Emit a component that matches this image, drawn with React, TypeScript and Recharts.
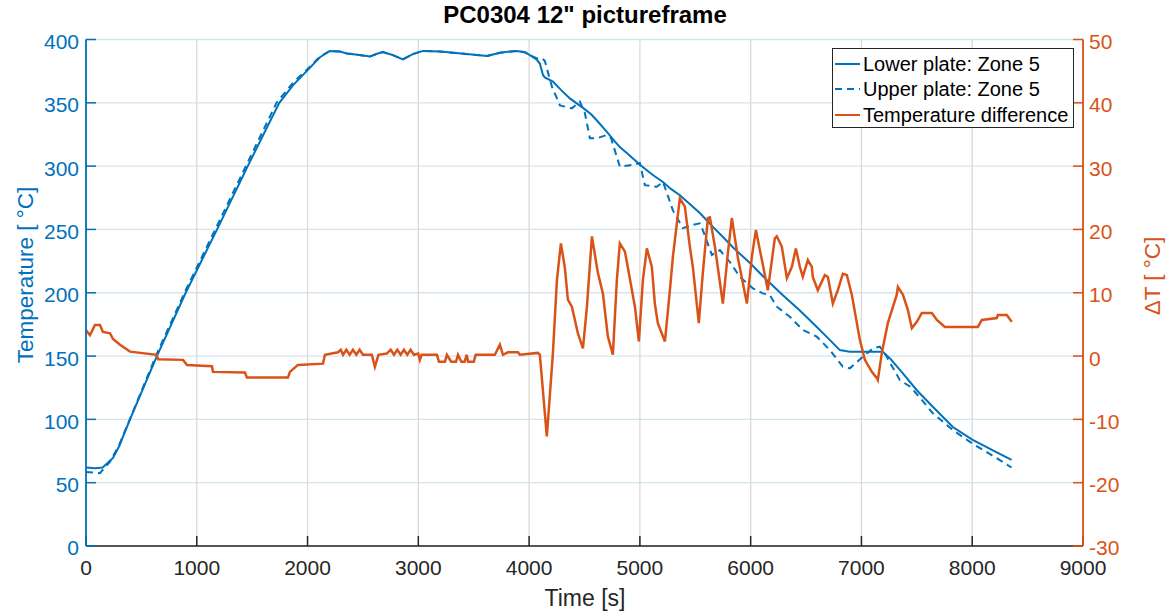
import { CartesianGrid, Line, LineChart, XAxis, YAxis } from "recharts";

const BLUE = "#0072BD";
const ORANGE = "#D95319";
const AXIS = "#262626";
const FONT = '"Liberation Sans", Arial, Helvetica, sans-serif';

// lower plate (solid)
const lowerTime = [0, 80, 150, 244, 300, 370, 397, 640, 900, 1200, 1460, 1745, 1870, 1992, 2112, 2202, 2292, 2355, 2450, 2563, 2620, 2680, 2760, 2861, 2950, 3041, 3195, 3436, 3620, 3736, 3890, 3960, 4007, 4070, 4097, 4125, 4142, 4215, 4290, 4368, 4486, 4560, 4612, 4702, 4760, 4819, 4900, 5000, 5117, 5208, 5280, 5361, 5450, 5541, 5659, 5750, 5839, 5993, 6146, 6291, 6444, 6597, 6700, 6805, 6895, 7193, 7260, 7374, 7500, 7644, 7825, 8000, 8200, 8355];
const lowerTemp = [62, 61.5, 62, 69.5, 79, 94, 100, 150, 200, 253, 300, 350, 364, 375, 386, 391, 390.5, 389, 388, 386.5, 388.5, 390, 388, 384.3, 388.5, 391, 390.5, 388.5, 387, 389.6, 391, 390, 387.7, 384, 381, 372, 370, 366.7, 360, 353.5, 346, 341, 336, 327, 321, 315, 309, 301, 293, 287.5, 282, 277, 270, 263, 252, 244, 236, 223.5, 210, 198, 186, 173, 164, 154.7, 153.5, 153.5, 148, 136.4, 123, 110, 94, 84, 75, 68];

// upper plate (dashed)
const upperTime = [0, 126, 217, 300, 400, 640, 900, 1200, 1460, 1720, 1870, 1992, 2112, 2202, 2292, 2355, 2450, 2563, 2620, 2680, 2760, 2861, 2950, 3041, 3195, 3436, 3620, 3736, 3890, 3960, 4007, 4070, 4120, 4142, 4206, 4278, 4386, 4458, 4503, 4549, 4612, 4700, 4740, 4819, 4937, 5000, 5027, 5045, 5153, 5208, 5244, 5298, 5388, 5478, 5541, 5568, 5650, 5722, 5812, 5903, 6020, 6110, 6173, 6236, 6354, 6471, 6597, 6715, 6832, 6895, 7013, 7103, 7166, 7229, 7256, 7347, 7437, 7540, 7644, 7825, 8000, 8200, 8355];
const upperTemp = [58.5, 57.5, 66.6, 80, 101, 152, 202, 256, 303, 350, 366, 376, 386.5, 391, 390.5, 389, 388, 386.5, 388.5, 390, 388, 384.3, 388.5, 391, 390.5, 388.5, 387, 389.6, 391, 390, 387.7, 385, 385, 383, 362.7, 348, 345.6, 351, 342, 322, 322, 324.6, 322, 299.6, 301, 302.5, 291.7, 285, 283.7, 287.5, 278.8, 265, 251, 253.5, 254.8, 249.5, 229.8, 233.7, 224.3, 212.5, 203.5, 199.5, 198.2, 189, 181, 170.6, 165.3, 154.8, 141.6, 140.3, 149.5, 156, 157.4, 149.5, 145, 131, 126, 116, 104.8, 91.6, 81, 70.5, 62];

// temperature difference (right axis)
const diffTime = [0, 36, 81, 126, 153, 217, 244, 307, 397, 638, 650, 876, 912, 1137, 1146, 1435, 1453, 1823, 1841, 1913, 2139, 2157, 2275, 2300, 2320, 2350, 2380, 2410, 2440, 2470, 2500, 2580, 2608, 2640, 2716, 2750, 2780, 2810, 2840, 2870, 2900, 2930, 2960, 3000, 3014, 3030, 3168, 3186, 3240, 3258, 3297, 3340, 3358, 3388, 3418, 3436, 3450, 3500, 3518, 3691, 3736, 3764, 3809, 3899, 3917, 4080, 4097, 4160, 4215, 4251, 4287, 4323, 4350, 4386, 4440, 4486, 4522, 4567, 4621, 4666, 4711, 4756, 4792, 4819, 4865, 4892, 4955, 4991, 5027, 5063, 5108, 5135, 5162, 5226, 5271, 5298, 5334, 5361, 5406, 5451, 5478, 5532, 5568, 5614, 5632, 5677, 5749, 5794, 5830, 5885, 5966, 6011, 6047, 6101, 6155, 6218, 6236, 6281, 6327, 6372, 6408, 6444, 6471, 6516, 6552, 6561, 6606, 6643, 6670, 6697, 6742, 6787, 6832, 6868, 6913, 6985, 7031, 7094, 7139, 7148, 7184, 7238, 7319, 7329, 7374, 7419, 7455, 7500, 7545, 7635, 7681, 7753, 8051, 8087, 8222, 8231, 8312, 8357];
const diffValue = [4.1, 3.3, 4.9, 4.9, 3.8, 3.6, 2.7, 1.8, 0.7, 0.2, -0.5, -0.6, -1.4, -1.6, -2.5, -2.6, -3.4, -3.4, -2.5, -1.4, -1.2, 0.2, 0.6, 1.0, 0.2, 1.0, 0.2, 1.0, 0.2, 1.0, 0.2, 0.2, -1.7, 0.2, 0.4, 1.0, 0.2, 1.0, 0.2, 1.0, 0.2, 1.0, 0.2, 0.4, -0.6, 0.2, 0.2, -0.9, -0.9, 0.2, -0.9, -0.9, 0.2, -0.9, -0.9, 0.2, -0.9, -0.9, 0.2, 0.2, 1.8, 0.2, 0.6, 0.6, 0.2, 0.5, 0.2, -12.7, 0.5, 12, 17.8, 13.9, 8.9, 7.8, 3.6, 1.2, 7.8, 18.9, 13.1, 9.9, 3.1, 0.2, 12, 17.8, 16.5, 13.9, 7.8, 2.3, 12, 17, 14.1, 8.3, 5.2, 2.3, 10.4, 15.7, 21, 24.9, 23.6, 17.3, 14.1, 5.2, 13.1, 21.8, 21.9, 17.3, 8.3, 16.2, 21.8, 15.5, 8.3, 15.7, 19.9, 15.2, 10.4, 18.6, 18.9, 17.3, 12.3, 14.1, 17, 14.1, 12.5, 15.2, 14.1, 12.5, 10.4, 11.8, 12.8, 12.5, 8.3, 10.4, 13, 12.8, 9.7, 2.6, -0.6, -2.5, -3.5, -3.8, 0.5, 5.2, 9.7, 10.9, 9.7, 7.3, 4.4, 5.4, 6.8, 6.8, 5.7, 4.6, 4.6, 5.7, 6.0, 6.5, 6.5, 5.4];

const timeTicks = [0, 1000, 2000, 3000, 4000, 5000, 6000, 7000, 8000, 9000];
const tempTicks = [0, 50, 100, 150, 200, 250, 300, 350, 400];
const diffTicks = [-30, -20, -10, 0, 10, 20, 30, 40, 50];

const legendItems = [
  { label: "Lower plate: Zone 5", color: BLUE, dash: undefined },
  { label: "Upper plate: Zone 5", color: BLUE, dash: "7 5" },
  { label: "Temperature difference", color: ORANGE, dash: undefined },
];

const pairs = (ts: number[], vs: number[]) => ts.map((t, i) => ({ t, v: vs[i] }));

const lower = pairs(lowerTime, lowerTemp);
const upper = pairs(upperTime, upperTemp);
const diff = pairs(diffTime, diffValue);

function LegendBox() {
  return (
    <div
      style={{
        position: "absolute",
        left: 832,
        top: 48,
        width: 242,
        height: 80,
        boxSizing: "border-box",
        border: `1.5px solid ${AXIS}`,
        background: "#fff",
        fontFamily: FONT,
        fontSize: 20,
        color: "#000",
        paddingTop: 2,
      }}
    >
      {legendItems.map((it) => (
        <div key={it.label} style={{ display: "flex", alignItems: "center", height: 25.5 }}>
          <svg width={30} height={10} style={{ flex: "none" }}>
            <line x1={2} x2={27} y1={5} y2={5} stroke={it.color} strokeWidth={2} strokeDasharray={it.dash} />
          </svg>
          <span style={{ whiteSpace: "nowrap", lineHeight: "20px" }}>{it.label}</span>
        </div>
      ))}
    </div>
  );
}

export default function App() {
  return (
    <div style={{ position: "relative", width: 1171, height: 613, background: "#fff" }}>
      <style>{"body{margin:0}"}</style>
      <LineChart width={1171} height={613} margin={{ top: 39.5, right: 0, bottom: 0, left: 0 }}>
        <CartesianGrid yAxisId="temp" vertical={false} stroke="#d4e5f2" strokeWidth={1.3} />
        <CartesianGrid yAxisId="temp" horizontal={false} stroke="#dadada" strokeWidth={1.3} />
        <XAxis
          type="number"
          dataKey="t"
          domain={[0, 9000]}
          ticks={timeTicks}
          height={67}
          tickSize={-10}
          tickMargin={24}
          axisLine={{ stroke: AXIS, strokeWidth: 1.5 }}
          tickLine={{ stroke: AXIS, strokeWidth: 1.5 }}
          tick={{ fill: AXIS, fontSize: 21, fontFamily: FONT }}
          interval={0}
        />
        <YAxis
          yAxisId="temp"
          type="number"
          domain={[0, 400]}
          ticks={tempTicks}
          width={86}
          tickSize={-10}
          tickMargin={17}
          axisLine={{ stroke: BLUE, strokeWidth: 1.8 }}
          tickLine={{ stroke: BLUE, strokeWidth: 1.5 }}
          tick={{ fill: BLUE, fontSize: 21, fontFamily: FONT, dy: 2 }}
          interval={0}
        />
        <YAxis
          yAxisId="dt"
          orientation="right"
          type="number"
          domain={[-30, 50]}
          ticks={diffTicks}
          width={88}
          tickSize={-10}
          tickMargin={16}
          axisLine={{ stroke: ORANGE, strokeWidth: 1.8 }}
          tickLine={{ stroke: ORANGE, strokeWidth: 1.5 }}
          tick={{ fill: ORANGE, fontSize: 21, fontFamily: FONT, dy: 2 }}
          interval={0}
        />
        <Line
          yAxisId="temp"
          data={lower}
          dataKey="v"
          type="linear"
          stroke={BLUE}
          strokeWidth={2}
          dot={false}
          isAnimationActive={false}
        />
        <Line
          yAxisId="temp"
          data={upper}
          dataKey="v"
          type="linear"
          stroke={BLUE}
          strokeWidth={2}
          strokeDasharray="7 5"
          dot={false}
          isAnimationActive={false}
        />
        <Line
          yAxisId="dt"
          data={diff}
          dataKey="v"
          type="linear"
          stroke={ORANGE}
          strokeWidth={2.5}
          dot={false}
          isAnimationActive={false}
        />
      </LineChart>
      <LegendBox />
      <svg
        width={1171}
        height={613}
        style={{ position: "absolute", left: 0, top: 0, pointerEvents: "none" }}
        fontFamily={FONT}
      >
        <text x={585} y={23} textAnchor="middle" fontWeight="bold" fontSize={24} fill="#000">
          PC0304 12" pictureframe
        </text>
        <text x={585} y={606} textAnchor="middle" fontSize={23} fill={AXIS}>
          Time [s]
        </text>
        <text transform="translate(33,275) rotate(-90)" textAnchor="middle" fontSize={22.5} fill={BLUE}>
          Temperature [ °C]
        </text>
        <text transform="translate(1160,276) rotate(-90)" textAnchor="middle" fontSize={22.5} fill={ORANGE}>
          ΔT [ °C]
        </text>
      </svg>
    </div>
  );
}
